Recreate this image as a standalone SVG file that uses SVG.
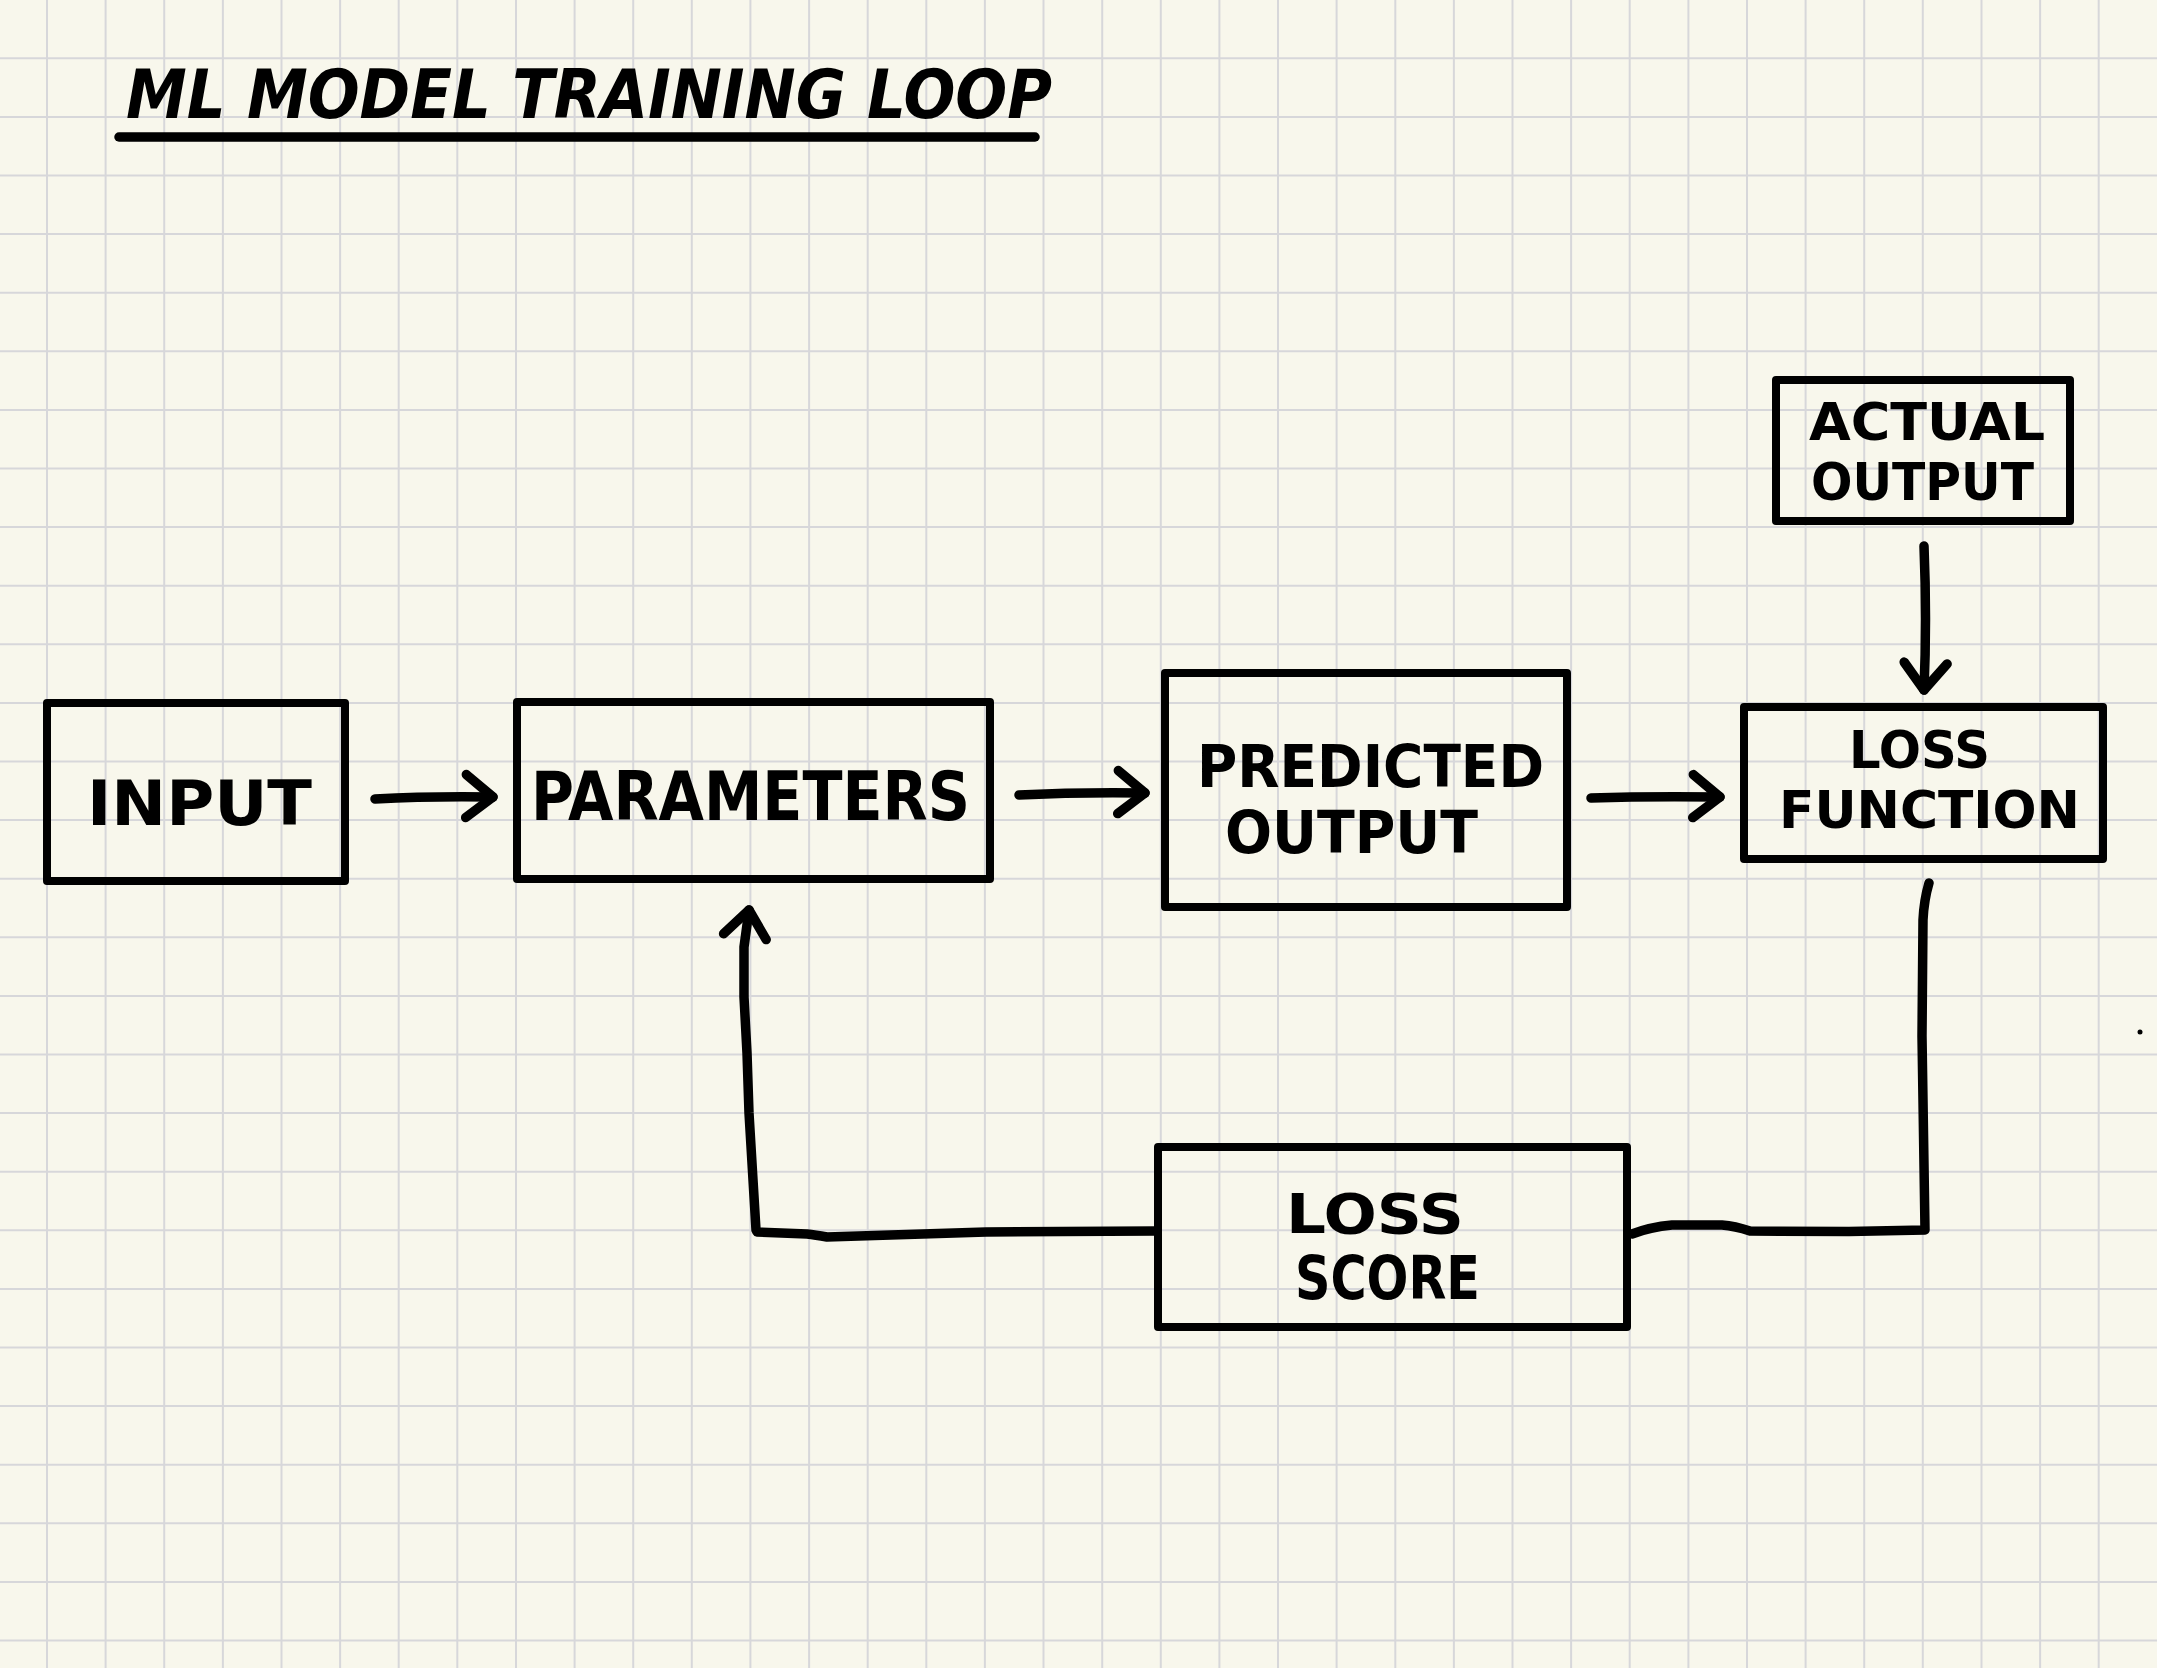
<svg xmlns="http://www.w3.org/2000/svg" width="2157" height="1668" viewBox="0 0 2157 1668">
<style>
.grid{stroke:#d7d7da;stroke-width:2;fill:none}
.box{fill:none;stroke:#000;stroke-width:8;stroke-linejoin:round}
.conn{fill:none;stroke:#000;stroke-width:9.5;stroke-linecap:round;stroke-linejoin:round}
.lbl{font-family:"DejaVu Sans Condensed","DejaVu Sans","Liberation Sans",sans-serif;font-weight:bold;fill:#000}
</style>
<defs>
<marker id="arr" markerUnits="userSpaceOnUse" viewBox="-40 -35 50 70" markerWidth="50" markerHeight="70" refX="0" refY="0" orient="auto" overflow="visible">
<path d="M-27,-22 L0,0 L-27,21" fill="none" stroke="#000" stroke-width="9.5" stroke-linecap="round" stroke-linejoin="round"/>
</marker>
</defs>
<rect width="2157" height="1668" fill="#f8f7ec"/>
<path class="grid" d="M47 0V1668M105.6 0V1668M164.2 0V1668M222.9 0V1668M281.5 0V1668M340.1 0V1668M398.7 0V1668M457.3 0V1668M516 0V1668M574.6 0V1668M633.2 0V1668M691.8 0V1668M750.4 0V1668M809.1 0V1668M867.7 0V1668M926.3 0V1668M984.9 0V1668M1043.5 0V1668M1102.2 0V1668M1160.8 0V1668M1219.4 0V1668M1278 0V1668M1336.6 0V1668M1395.3 0V1668M1453.9 0V1668M1512.5 0V1668M1571.1 0V1668M1629.7 0V1668M1688.4 0V1668M1747 0V1668M1805.6 0V1668M1864.2 0V1668M1922.8 0V1668M1981.5 0V1668M2040.1 0V1668M2098.7 0V1668M0 58.3H2157M0 116.9H2157M0 175.5H2157M0 234.1H2157M0 292.7H2157M0 351.3H2157M0 409.9H2157M0 468.5H2157M0 527.1H2157M0 585.7H2157M0 644.3H2157M0 702.9H2157M0 761.5H2157M0 820.1H2157M0 878.7H2157M0 937.3H2157M0 995.9H2157M0 1054.5H2157M0 1113.1H2157M0 1171.7H2157M0 1230.3H2157M0 1288.9H2157M0 1347.5H2157M0 1406.1H2157M0 1464.7H2157M0 1523.3H2157M0 1581.9H2157M0 1640.5H2157"/>
<g id="title">
<text class="lbl" x="126" y="118" font-size="68" font-style="italic" textLength="926" lengthAdjust="spacingAndGlyphs">ML MODEL TRAINING LOOP</text>
<path class="conn" d="M119,137 L1035,137" stroke-width="10"/>
</g>
<g id="connectors">
<path class="conn" d="M375,799 Q430,796 493,797" marker-end="url(#arr)"/>
<path class="conn" d="M1019,795 Q1080,792 1145,793" marker-end="url(#arr)"/>
<path class="conn" d="M1591,798 Q1650,796 1720,797" marker-end="url(#arr)"/>
<path class="conn" d="M1924,546 Q1927,620 1924,690" marker-end="url(#arr)"/>
<path class="conn" d="M1929,883 Q1924,900 1923,920 L1922,1036 L1925,1230 L1849,1231.5 L1750,1231 Q1735,1226 1722,1225 L1672,1225 Q1650,1227 1632,1234"/>
<path class="conn" d="M1155,1231 L986,1232 L827,1237 Q815,1235 807,1234 L757,1232 L756,1230 L749,1113 L747,1053 L744,997 L744,947 L749,910" marker-end="url(#arr)"/>
</g>
<g id="input">
<rect class="box" x="47" y="703" width="298" height="178"/>
<text class="lbl" x="87" y="825" font-size="62" textLength="225" lengthAdjust="spacingAndGlyphs">INPUT</text>
</g>
<g id="parameters">
<rect class="box" x="517" y="702" width="473" height="177"/>
<text class="lbl" x="531" y="820" font-size="68" textLength="439" lengthAdjust="spacingAndGlyphs">PARAMETERS</text>
</g>
<g id="predicted-output">
<rect class="box" x="1165" y="673" width="402" height="234"/>
<text class="lbl" x="1197" y="787" font-size="58" textLength="347" lengthAdjust="spacingAndGlyphs">PREDICTED</text>
<text class="lbl" x="1225" y="853" font-size="58" textLength="253" lengthAdjust="spacingAndGlyphs">OUTPUT</text>
</g>
<g id="actual-output">
<rect class="box" x="1776" y="380" width="294" height="141"/>
<text class="lbl" x="1809" y="440" font-size="52" textLength="236" lengthAdjust="spacingAndGlyphs">ACTUAL</text>
<text class="lbl" x="1811" y="500" font-size="52" textLength="223" lengthAdjust="spacingAndGlyphs">OUTPUT</text>
</g>
<g id="loss-function">
<rect class="box" x="1744" y="707" width="359" height="152"/>
<text class="lbl" x="1849" y="768" font-size="52" textLength="141" lengthAdjust="spacingAndGlyphs">LOSS</text>
<text class="lbl" x="1779" y="828" font-size="52" textLength="301" lengthAdjust="spacingAndGlyphs">FUNCTION</text>
</g>
<g id="loss-score">
<rect class="box" x="1158" y="1147" width="469" height="180"/>
<text class="lbl" x="1286" y="1233" font-size="56" textLength="178" lengthAdjust="spacingAndGlyphs">LOSS</text>
<text class="lbl" x="1295" y="1299" font-size="60" textLength="185" lengthAdjust="spacingAndGlyphs">SCORE</text>
</g>
<circle cx="2140" cy="1032" r="2.5" fill="#000"/>
</svg>
